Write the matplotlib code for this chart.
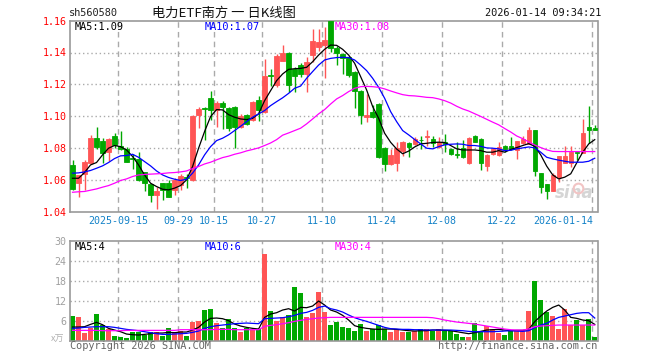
import numpy as np
import matplotlib
matplotlib.use("Agg")
import matplotlib.pyplot as plt

# ---- price data ----
open_ = [
    1.0693, 1.0582, 1.0635, 1.0704, 1.0865, 1.0844, 1.0777, 1.0875, 1.0815, 1.0792,
    1.0735, 1.0731, 1.0647, 1.0574, 1.0501, 1.0578, 1.0578, 1.0536, 1.0568, 1.0616,
    1.0595, 1.1007, 1.1051, 1.1112, 1.1039, 1.1081, 1.1049, 1.1055, 1.0930, 1.1007,
    1.0976, 1.1104, 1.1024, 1.1258, 1.1198, 1.1349, 1.1395, 1.1296, 1.1321, 1.1265,
    1.1384, 1.1432, 1.1447, 1.1600, 1.1426, 1.1391, 1.1370, 1.1279, 1.1160, 1.0993,
    1.1028, 1.1076, 1.0802, 1.0700, 1.0706, 1.0783, 1.0829, 1.0825, 1.0851, 1.0868,
    1.0853, 1.0806, 1.0836, 1.0794, 1.0760, 1.0798, 1.0704, 1.0877, 1.0857, 1.0689,
    1.0762, 1.0756, 1.0813, 1.0813, 1.0787, 1.0829, 1.0823, 1.0913, 1.0641, 1.0574,
    1.0530, 1.0616, 1.0704, 1.0704, 1.0775, 1.0771, 1.0934, 1.0928]
high = [
    1.0725, 1.0632, 1.0725, 1.0882, 1.0934, 1.0861, 1.0861, 1.0892, 1.0909, 1.0808,
    1.0762, 1.0777, 1.0650, 1.0574, 1.0557, 1.0582, 1.0599, 1.0609, 1.0635, 1.0635,
    1.1007, 1.1060, 1.1060, 1.1160, 1.1095, 1.1097, 1.1055, 1.1062, 1.1014, 1.1014,
    1.1097, 1.1125, 1.1359, 1.1296, 1.1390, 1.1447, 1.1401, 1.1307, 1.1335, 1.1370,
    1.1548, 1.1548, 1.1558, 1.1600, 1.1443, 1.1395, 1.1380, 1.1286, 1.1166, 1.1139,
    1.1070, 1.1083, 1.0804, 1.0794, 1.0836, 1.0845, 1.0834, 1.0867, 1.0872, 1.0910,
    1.0876, 1.0866, 1.0888, 1.0798, 1.0836, 1.0852, 1.0867, 1.0881, 1.0861, 1.0762,
    1.0800, 1.0836, 1.0821, 1.0867, 1.0846, 1.0875, 1.0934, 1.0913, 1.0641, 1.0574,
    1.0641, 1.0746, 1.0813, 1.0813, 1.0777, 1.0982, 1.1064, 1.0945]
low = [
    1.0536, 1.0494, 1.0536, 1.0704, 1.0790, 1.0704, 1.0720, 1.0800, 1.0785, 1.0714,
    1.0666, 1.0594, 1.0526, 1.0457, 1.0417, 1.0473, 1.0490, 1.0505, 1.0536, 1.0547,
    1.0589, 1.0924, 1.0850, 1.0976, 1.0930, 1.0919, 1.0909, 1.0798, 1.0924, 1.0945,
    1.0972, 1.0972, 1.1020, 1.1187, 1.1181, 1.1345, 1.1154, 1.1154, 1.1245, 1.1150,
    1.1338, 1.1410, 1.1238, 1.1401, 1.1321, 1.1265, 1.1245, 1.1049, 1.0951, 1.0965,
    1.0986, 1.0735, 1.0653, 1.0690, 1.0653, 1.0746, 1.0741, 1.0818, 1.0790, 1.0815,
    1.0806, 1.0797, 1.0773, 1.0756, 1.0735, 1.0735, 1.0700, 1.0836, 1.0664, 1.0653,
    1.0756, 1.0750, 1.0773, 1.0789, 1.0729, 1.0825, 1.0823, 1.0626, 1.0519, 1.0477,
    1.0526, 1.0588, 1.0704, 1.0679, 1.0725, 1.0770, 1.0829, 1.0913]
close = [
    1.0542, 1.0630, 1.0714, 1.0865, 1.0808, 1.0767, 1.0857, 1.0819, 1.0792, 1.0714,
    1.0731, 1.0599, 1.0582, 1.0501, 1.0530, 1.0536, 1.0494, 1.0599, 1.0626, 1.0612,
    1.1001, 1.1045, 1.1047, 1.1039, 1.1081, 1.1057, 1.0924, 1.0930, 1.1003, 1.0951,
    1.1091, 1.1041, 1.1254, 1.1254, 1.1380, 1.1395, 1.1196, 1.1254, 1.1265, 1.1342,
    1.1474, 1.1464, 1.1479, 1.1426, 1.1395, 1.1363, 1.1259, 1.1160, 1.1007, 1.1009,
    1.0993, 1.0741, 1.0700, 1.0756, 1.0798, 1.0834, 1.0804, 1.0854, 1.0849, 1.0872,
    1.0830, 1.0840, 1.0825, 1.0762, 1.0758, 1.0741, 1.0861, 1.0840, 1.0704, 1.0756,
    1.0794, 1.0804, 1.0794, 1.0794, 1.0844, 1.0854, 1.0913, 1.0655, 1.0551, 1.0530,
    1.0630, 1.0746, 1.0746, 1.0777, 1.0770, 1.0892, 1.0913, 1.0913]

ma5 = [
    1.0609, 1.0609, 1.0645, 1.0693, 1.0708, 1.0756, 1.0798, 1.0815, 1.0808, 1.0787,
    1.0746, 1.0693, 1.0630, 1.0578, 1.0557, 1.0540, 1.0536, 1.0547, 1.0563, 1.0599,
    1.0683, 1.0798, 1.0903, 1.0997, 1.1041, 1.1039, 1.1009, 1.0993, 1.0982, 1.0978,
    1.0986, 1.1014, 1.1097, 1.1160, 1.1223, 1.1265, 1.1294, 1.1298, 1.1300, 1.1307,
    1.1342, 1.1384, 1.1420, 1.1447, 1.1445, 1.1420, 1.1384, 1.1332, 1.1248, 1.1164,
    1.1060, 1.0986, 1.0892, 1.0835, 1.0793, 1.0763, 1.0780, 1.0806, 1.0825, 1.0829,
    1.0834, 1.0836, 1.0834, 1.0815, 1.0794, 1.0787, 1.0787, 1.0787, 1.0783, 1.0773,
    1.0773, 1.0783, 1.0773, 1.0790, 1.0802, 1.0815, 1.0827, 1.0810, 1.0756, 1.0685,
    1.0630, 1.0605, 1.0616, 1.0637, 1.0706, 1.0773, 1.0825, 1.0852]
ma10 = [
    1.0641, 1.0643, 1.0649, 1.0658, 1.0672, 1.0687, 1.0708, 1.0733, 1.0750, 1.0752,
    1.0760, 1.0741, 1.0714, 1.0687, 1.0655, 1.0630, 1.0614, 1.0603, 1.0595, 1.0603,
    1.0641, 1.0693, 1.0756, 1.0808, 1.0846, 1.0861, 1.0882, 1.0909, 1.0936, 1.0965,
    1.0993, 1.1014, 1.1035, 1.1066, 1.1091, 1.1115, 1.1143, 1.1175, 1.1189, 1.1238,
    1.1280, 1.1321, 1.1353, 1.1363, 1.1368, 1.1370, 1.1368, 1.1353, 1.1321, 1.1286,
    1.1238, 1.1181, 1.1112, 1.1028, 1.0965, 1.0909, 1.0882, 1.0853, 1.0825, 1.0798,
    1.0794, 1.0808, 1.0819, 1.0823, 1.0825, 1.0823, 1.0815, 1.0815, 1.0810, 1.0800,
    1.0798, 1.0794, 1.0783, 1.0785, 1.0794, 1.0800, 1.0806, 1.0800, 1.0773, 1.0741,
    1.0731, 1.0723, 1.0716, 1.0710, 1.0710, 1.0710, 1.0716, 1.0735]
ma30 = [
    1.0521, 1.0524, 1.0526, 1.0534, 1.0542, 1.0553, 1.0563, 1.0578, 1.0595, 1.0605,
    1.0620, 1.0630, 1.0633, 1.0635, 1.0637, 1.0639, 1.0643, 1.0645, 1.0649, 1.0655,
    1.0670, 1.0683, 1.0699, 1.0710, 1.0725, 1.0739, 1.0748, 1.0760, 1.0769, 1.0781,
    1.0790, 1.0800, 1.0815, 1.0831, 1.0852, 1.0880, 1.0894, 1.0909, 1.0924, 1.0951,
    1.0982, 1.1014, 1.1041, 1.1076, 1.1108, 1.1129, 1.1154, 1.1175, 1.1185, 1.1187,
    1.1185, 1.1181, 1.1171, 1.1158, 1.1146, 1.1135, 1.1129, 1.1127, 1.1123, 1.1118,
    1.1116, 1.1108, 1.1097, 1.1082, 1.1062, 1.1045, 1.1032, 1.1015, 1.0998, 1.0980,
    1.0962, 1.0945, 1.0922, 1.0900, 1.0875, 1.0858, 1.0838, 1.0818, 1.0802, 1.0788,
    1.0778, 1.0777, 1.0777, 1.0777, 1.0777, 1.0777, 1.0777, 1.0777]

# ---- volume data (10k lots) ----
volume = [
    7.4, 7.1, 2.3, 3.9, 8.0, 4.7, 3.5, 1.4, 1.1, 0.8,
    2.6, 2.6, 1.6, 2.6, 2.6, 1.4, 3.8, 2.6, 2.8, 1.4,
    5.6, 6.0, 9.2, 9.5, 5.4, 3.7, 6.4, 3.7, 2.6, 3.7,
    3.3, 3.6, 26.0, 9.0, 6.0, 7.0, 7.7, 16.1, 14.4, 7.2,
    8.3, 14.6, 8.7, 4.7, 5.7, 4.1, 3.8, 2.9, 5.0, 2.9,
    3.4, 4.7, 3.5, 2.7, 3.5, 2.6, 2.6, 2.9, 3.5, 3.5,
    2.9, 3.5, 2.9, 2.9, 2.0, 1.2, 1.1, 5.3, 2.9, 4.4,
    3.5, 2.3, 1.7, 2.9, 2.9, 2.9, 8.9, 17.9, 12.2, 8.7,
    7.4, 3.5, 9.5, 4.7, 6.3, 4.7, 6.4, 1.1]
vma5 = [
    4.1, 4.1, 4.2, 4.9, 5.5, 4.8, 3.7, 3.2, 2.7, 2.0,
    1.8, 1.7, 1.9, 2.1, 2.3, 2.3, 2.5, 2.4, 2.6, 2.6,
    3.2, 4.0, 5.6, 6.7, 6.8, 6.6, 6.0, 5.0, 4.4, 4.0,
    3.7, 3.5, 7.0, 8.0, 8.4, 9.2, 9.6, 8.9, 10.0, 9.9,
    10.4, 11.9, 10.7, 9.2, 8.6, 7.6, 6.2, 4.5, 4.0, 3.7,
    3.5, 3.4, 3.5, 3.5, 3.4, 3.2, 3.0, 2.9, 3.0, 3.0,
    3.2, 3.2, 3.1, 3.0, 2.7, 2.4, 2.1, 2.4, 2.8, 3.2,
    3.3, 3.4, 3.2, 3.0, 3.1, 3.1, 3.4, 5.7, 7.4, 8.9,
    10.0, 10.7, 9.2, 7.0, 6.7, 6.2, 6.0, 4.9]
vma10 = [
    3.7, 3.8, 4.0, 4.1, 4.2, 4.2, 4.2, 4.0, 3.7, 3.4,
    3.2, 3.0, 2.7, 2.4, 2.1, 1.9, 1.9, 2.0, 2.1, 2.2,
    2.5, 2.9, 3.7, 4.2, 4.5, 4.7, 4.9, 5.1, 5.2, 5.3,
    5.2, 5.1, 6.6, 6.7, 6.8, 6.9, 7.2, 7.6, 8.2, 8.5,
    9.1, 10.0, 10.4, 9.6, 9.2, 8.6, 7.7, 6.9, 6.3, 5.8,
    5.2, 4.6, 4.0, 3.6, 3.5, 3.4, 3.4, 3.3, 3.3, 3.2,
    3.2, 3.2, 3.2, 3.2, 3.1, 3.0, 2.8, 2.7, 2.7, 2.7,
    2.7, 2.8, 2.9, 3.0, 2.9, 2.8, 3.0, 3.9, 4.7, 5.2,
    6.2, 7.0, 7.4, 7.8, 8.2, 8.4, 8.4, 6.8]
vma30 = [
    3.1, 3.1, 3.1, 3.1, 3.1, 3.0, 3.0, 3.0, 3.0, 3.1,
    3.1, 3.1, 3.1, 3.1, 3.1, 3.1, 3.1, 3.1, 3.3, 3.3,
    3.3, 3.3, 3.3, 3.3, 3.4, 3.4, 3.4, 3.3, 3.3, 3.3,
    3.3, 3.3, 4.3, 4.6, 4.8, 5.1, 5.4, 5.8, 6.1, 6.4,
    6.6, 6.8, 6.9, 7.0, 7.0, 7.0, 7.0, 7.0, 7.0, 7.0,
    7.0, 7.0, 7.0, 7.0, 7.0, 7.0, 7.0, 7.0, 7.0, 7.0,
    6.9, 6.6, 6.2, 5.9, 5.6, 5.4, 5.2, 5.0, 4.7, 4.4,
    4.1, 3.8, 3.5, 3.3, 3.2, 3.2, 3.5, 4.2, 4.4, 4.5,
    4.6, 4.7, 4.7, 4.7, 4.7, 4.7, 4.7, 4.7]

date_idx = [8, 18, 24, 32, 42, 52, 62, 72, 87]
date_labels = ["2025-09-15", "09-29", "10-15", "10-27", "11-10", "11-24",
               "12-08", "12-22", "2026-01-14"]
price_ticks = [1.04, 1.06, 1.08, 1.10, 1.12, 1.14, 1.16]
vol_ticks = [6, 12, 18, 24, 30]

RED = "#ff5555"
GREEN = "#00a800"
FRAME = "#999999"
GRID = "#aaaaaa"
MONO = "DejaVu Sans Mono"
CJK = ["Noto Sans CJK SC", "DejaVu Sans"]

o = np.array(open_); c = np.array(close)
h = np.array(high); l = np.array(low)
x = np.arange(len(o))
cols = [RED if cc > oo else GREEN for oo, cc in zip(o, c)]
edge = x - 0.42  # grid lines sit on the candle's left edge

W, H = 660, 360
fig = plt.figure(figsize=(6.6, 3.6), dpi=100)
fig.patch.set_facecolor("white")


def fx(px):
    return px / W


def fy(py):
    return 1 - py / H


ax = fig.add_axes([fx(70), fy(211.5), 527.5 / W, 190.8 / H])
axv = fig.add_axes([fx(70), fy(340.7), 527.5 / W, 100 / H])

for a in (ax, axv):
    a.set_xlim(-0.42, len(x) - 0.54)
    for s in a.spines.values():
        s.set_color(FRAME)
        s.set_linewidth(1.2)
    a.tick_params(length=0)
    a.set_xticks([])

# ---- price panel ----
ax.set_ylim(1.04, 1.16)
for yv in price_ticks[1:-1]:
    ax.axhline(yv, color=GRID, lw=1, ls=(0, (1, 2)), zorder=0)
for i in date_idx:
    ax.axvline(edge[i], color=GRID, lw=1, ls=(0, (4, 3)), zorder=0)

ax.vlines(x, l, h, colors=cols, lw=1, zorder=2)
ax.bar(x, np.abs(c - o), bottom=np.minimum(o, c), width=0.72,
       color=cols, edgecolor=cols, linewidth=0.6, zorder=3)
ax.plot(x, ma5, color="black", lw=0.9, zorder=4)
ax.plot(x, ma10, color="#0000ff", lw=0.9, zorder=4)
ax.plot(x, ma30, color="#ff00ff", lw=0.9, zorder=4)

ax.set_yticks(price_ticks)
ax.set_yticklabels(["%.2f" % t for t in price_ticks], color="#ff0000",
                   fontfamily=MONO, fontsize=7.2)
ax.tick_params(axis="y", pad=2.5)

for i, lab in zip(date_idx, date_labels):
    ha = "right" if i == date_idx[-1] else "center"
    xp = edge[i] + (0.1 if ha == "right" else 0)
    ax.text(xp, -0.05, lab, transform=ax.get_xaxis_transform(), ha=ha,
            va="center", color="#1482c8", fontfamily=MONO, fontsize=7.2)

# sina watermark
ax.text(0.955, 0.095, "sina", transform=ax.transAxes, ha="center", va="center",
        fontsize=12, fontweight="bold", fontstyle="italic", color="#d5d5d5",
        zorder=1)
ax.plot([84.2], [1.0545], "o", ms=7, mfc="none", mec="#f2c4c4", mew=1.5, zorder=1)

# ---- volume panel ----
axv.set_ylim(0, 30)
for yv in vol_ticks[:-1]:
    axv.axhline(yv, color=GRID, lw=1, ls=(0, (1, 2)), zorder=0)
for i in date_idx:
    if i == 24:
        continue
    axv.axvline(edge[i], color=GRID, lw=1, ls=(0, (4, 3)), zorder=0)

axv.bar(x, volume, width=0.8, color=cols, linewidth=0, zorder=2)
axv.plot(x, vma5, color="black", lw=0.9, zorder=4)
axv.plot(x, vma10, color="#0000ff", lw=0.9, zorder=4)
axv.plot(x, vma30, color="#ff00ff", lw=0.9, zorder=4)
axv.set_yticks(vol_ticks)
axv.set_yticklabels([str(t) for t in vol_ticks], color="#a0a0a0",
                    fontfamily=MONO, fontsize=7.2)
axv.tick_params(axis="y", pad=2.5)

# ---- texts ----
fig.text(fx(69), fy(13), "sh560580", ha="left", va="center",
         fontfamily=MONO, fontsize=7.4, color="#222222")
fig.text(fx(224), fy(13), "电力ETF南方 一 日K线图", ha="center", va="center",
         family=CJK, fontsize=9.5, color="#111111")
fig.text(fx(601), fy(13), "2026-01-14 09:34:21", ha="right", va="center",
         fontfamily=MONO, fontsize=7.4, color="#111111")

fig.text(fx(75), fy(27), "MA5:1.09", ha="left", va="center",
         fontfamily=MONO, fontsize=7.4, color="black")
fig.text(fx(205), fy(27), "MA10:1.07", ha="left", va="center",
         fontfamily=MONO, fontsize=7.4, color="#0000ff")
fig.text(fx(335), fy(27), "MA30:1.08", ha="left", va="center",
         fontfamily=MONO, fontsize=7.4, color="#ff00ff")

fig.text(fx(75), fy(247), "MA5:4", ha="left", va="center",
         fontfamily=MONO, fontsize=7.4, color="black")
fig.text(fx(205), fy(247), "MA10:6", ha="left", va="center",
         fontfamily=MONO, fontsize=7.4, color="#0000ff")
fig.text(fx(335), fy(247), "MA30:4", ha="left", va="center",
         fontfamily=MONO, fontsize=7.4, color="#ff00ff")

fig.text(fx(64), fy(339), "x万", ha="right", va="center",
         family=CJK, fontsize=6.5, color="#b0b0b0")
fig.text(fx(70), fy(346), "Copyright 2026 SINA.COM", ha="left", va="center",
         fontfamily=MONO, fontsize=7.4, color="#666666")
fig.text(fx(597), fy(346), "http://finance.sina.com.cn", ha="right",
         va="center", fontfamily=MONO, fontsize=7.4, color="#666666")

fig.savefig("out.png", dpi=100, facecolor="white")
